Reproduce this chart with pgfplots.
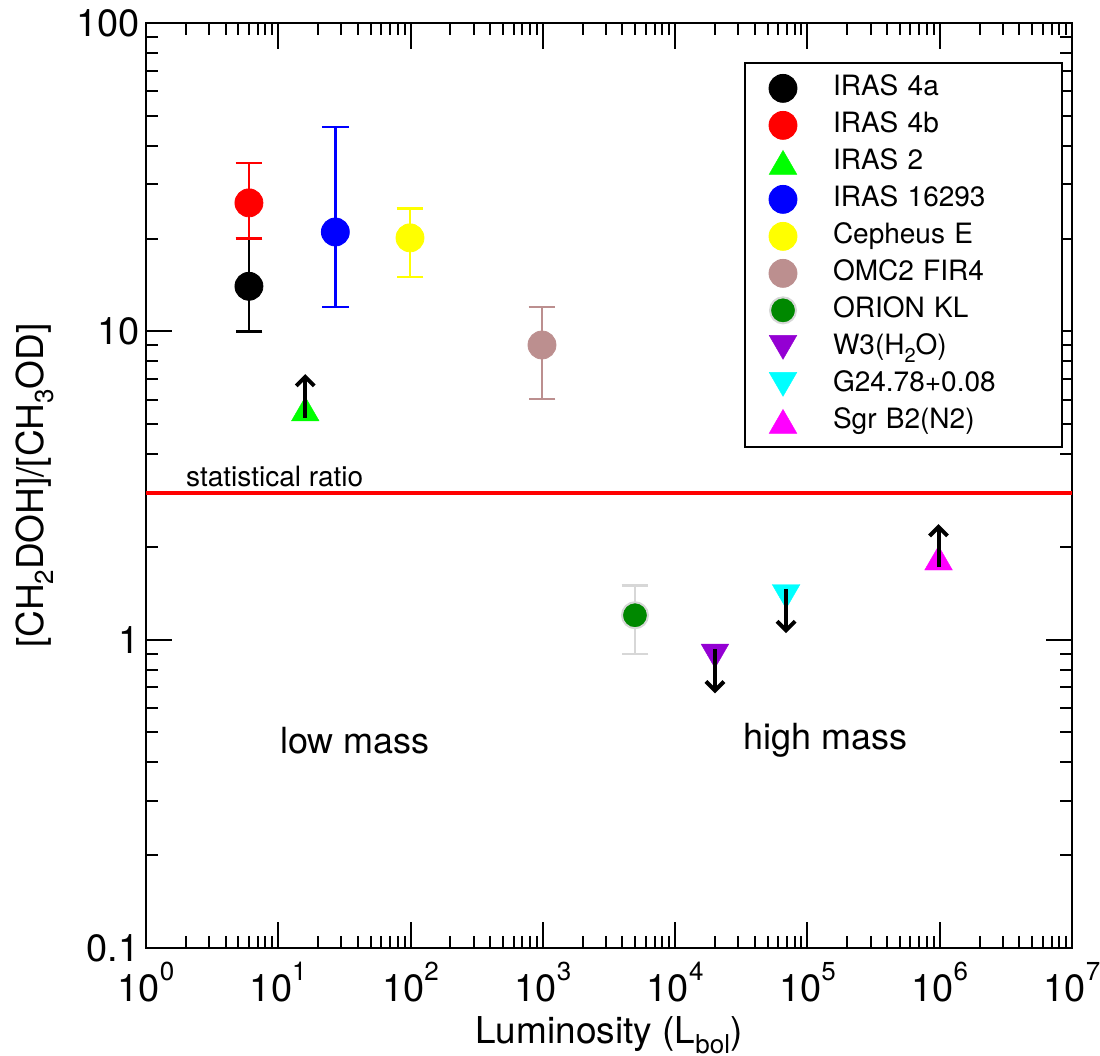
\documentclass[border=0pt]{standalone}
\usepackage{fontspec}
\setmainfont{TeX Gyre Heros}
\usepackage{pgfplots}
\pgfplotsset{compat=1.18}
\usetikzlibrary{arrows.meta}
\definecolor{cyel}{RGB}{255,255,0}
\definecolor{cgrn}{RGB}{0,255,0}
\definecolor{crosy}{RGB}{188,143,143}
\definecolor{cdkgrn}{RGB}{0,136,0}
\definecolor{clgray}{RGB}{215,215,215}
\definecolor{cviol}{RGB}{148,0,211}
\definecolor{ccyan}{RGB}{0,255,255}
\definecolor{cmag}{RGB}{255,0,255}
\newcommand{\ex}[1]{10\raisebox{10.5pt}{\fontsize{13}{14}\selectfont #1}}
\begin{document}
\begin{tikzpicture}
\begin{axis}[
  xmode=log, ymode=log,
  clip mode=individual,
  scale only axis, width=463pt, height=462.5pt,
  xmin=1, xmax=1e7, ymin=0.1, ymax=100,
  axis line style={line width=1.3pt},
  tick style={line width=1pt, black},
  major tick length=13pt, minor tick length=6pt,
  tick align=inside,
  xtick={1,10,100,1000,10000,100000,1000000,10000000},
  xticklabels={\ex{0},\ex{1},\ex{2},\ex{3},\ex{4},\ex{5},\ex{6},\ex{7}},
  minor xtick={2,3,4,5,6,7,8,9,20,30,40,50,60,70,80,90,200,300,400,500,600,700,800,900,2e3,3e3,4e3,5e3,6e3,7e3,8e3,9e3,2e4,3e4,4e4,5e4,6e4,7e4,8e4,9e4,2e5,3e5,4e5,5e5,6e5,7e5,8e5,9e5,2e6,3e6,4e6,5e6,6e6,7e6,8e6,9e6},
  ytick={0.1,1,10,100}, yticklabels={0.1,1,10,100},
  minor ytick={0.2,0.3,0.4,0.5,0.6,0.7,0.8,0.9,2,3,4,5,6,7,8,9,20,30,40,50,60,70,80,90},
  ticklabel style={font=\fontsize{19}{21}\selectfont},
  xticklabel style={inner ysep=0pt, yshift=-7pt},
  yticklabel style={inner xsep=0pt, xshift=-3pt},
  xlabel={Luminosity (L\raisebox{-5pt}{\fontsize{13}{14}\selectfont bol})},
  ylabel={[CH\raisebox{-5pt}{\fontsize{13}{14}\selectfont 2}DOH]/[CH\raisebox{-5pt}{\fontsize{13}{14}\selectfont 3}OD]},
  label style={font=\fontsize{18.5}{21}\selectfont},
  xlabel style={at={(axis description cs:0.5,0)}, anchor=base, yshift=-47.5pt, inner sep=0pt},
  ylabel style={at={(axis description cs:-0.1199,0.5)}, anchor=center, rotate=0, inner sep=0pt},
  legend style={at={(axis description cs:0.9903,0.958)}, anchor=north east, draw=black, line width=1pt, fill=white,
    font=\fontsize{14}{16}\selectfont, inner xsep=12pt, inner ysep=3.5pt, row sep=0pt, column sep=18pt,
    cells={anchor=west},
    nodes={inner xsep=0pt, inner ysep=2pt, text height=11pt, text depth=3.5pt, text width=102.5pt, align=left}},
]
% statistical ratio
\addplot[forget plot, red, line width=2pt] coordinates {(1,3) (1e7,3)};

\addplot[only marks, mark=*, mark size=7pt, black, mark options={fill=black, draw=black, line width=0.4pt},
  error bars/.cd, y dir=both, y explicit, error bar style={line width=1.2pt, black},
  error mark options={rotate=90, mark size=6.7pt, line width=1.2pt, black}]
  coordinates {(6,14) += (0,6) -= (0,4)};
\addlegendentry{IRAS 4a}

\addplot[only marks, mark=*, mark size=7pt, red, mark options={fill=red, draw=red, line width=0.4pt},
  error bars/.cd, y dir=both, y explicit, error bar style={line width=1.2pt, red},
  error mark options={rotate=90, mark size=6.7pt, line width=1.2pt, red}]
  coordinates {(6,26.1) += (0,9.1) -= (0,6.1)};
\addlegendentry{IRAS 4b}

\addplot[only marks, mark=triangle*, mark size=8pt, cgrn, mark options={fill=cgrn, draw=cgrn, line width=0.2pt, yshift=-2pt}]
  coordinates {(16,5.6)};
\addlegendentry{IRAS 2}

\addplot[only marks, mark=*, mark size=7pt, blue, mark options={fill=blue, draw=blue, line width=0.4pt},
  error bars/.cd, y dir=both, y explicit, error bar style={line width=1.2pt, blue},
  error mark options={rotate=90, mark size=6.7pt, line width=1.2pt, blue}]
  coordinates {(27,21) += (0,25) -= (0,9)};
\addlegendentry{IRAS 16293}

\addplot[only marks, mark=*, mark size=7pt, cyel, mark options={fill=cyel, draw=cyel, line width=0.4pt},
  error bars/.cd, y dir=both, y explicit, error bar style={line width=1.2pt, cyel},
  error mark options={rotate=90, mark size=6.7pt, line width=1.2pt, cyel}]
  coordinates {(99,20.1) += (0,4.9) -= (0,5.1)};
\addlegendentry{Cepheus E}

\addplot[only marks, mark=*, mark size=7pt, crosy, mark options={fill=crosy, draw=crosy, line width=0.4pt},
  error bars/.cd, y dir=both, y explicit, error bar style={line width=1.2pt, crosy},
  error mark options={rotate=90, mark size=6.7pt, line width=1.2pt, crosy}]
  coordinates {(985,9.03) += (0,2.97) -= (0,3.0)};
\addlegendentry{OMC2 FIR4}

\addplot[only marks, mark=*, mark size=6.5pt, cdkgrn, mark options={fill=cdkgrn, draw=clgray, line width=1pt},
  error bars/.cd, y dir=both, y explicit, error bar style={line width=1.2pt, clgray},
  error mark options={rotate=90, mark size=6.7pt, line width=1.2pt, clgray}]
  coordinates {(4970,1.2) += (0,0.3) -= (0,0.3)};
\addlegendentry{ORION KL}

\addplot[only marks, mark=triangle*, mark size=8pt, cviol, mark options={fill=cviol, draw=cviol, line width=0.2pt, yshift=2pt, rotate=180}]
  coordinates {(2e4,0.885)};
\addlegendentry{W3(H\raisebox{-4pt}{\fontsize{10}{12}\selectfont 2}O)}

\addplot[only marks, mark=triangle*, mark size=8pt, ccyan, mark options={fill=ccyan, draw=ccyan, line width=0.2pt, yshift=2pt, rotate=180}]
  coordinates {(6.9e4,1.38)};
\addlegendentry{G24.78+0.08}

\addplot[only marks, mark=triangle*, mark size=8pt, cmag, mark options={fill=cmag, draw=cmag, line width=0.2pt, yshift=-2pt}]
  coordinates {(9.8e5,1.84)};
\addlegendentry{Sgr B2(N2)}

% limit arrows
\addplot[forget plot, black, line width=2pt, -{Straight Barb[length=4.5pt,width=9pt]}] coordinates {(16,5.24) (16,7.27)};
\addplot[forget plot, black, line width=2pt, -{Straight Barb[length=4.5pt,width=9pt]}] coordinates {(2e4,0.93) (2e4,0.67)};
\addplot[forget plot, black, line width=2pt, -{Straight Barb[length=4.5pt,width=9pt]}] coordinates {(6.9e4,1.46) (6.9e4,1.05)};
\addplot[forget plot, black, line width=2pt, -{Straight Barb[length=4.5pt,width=9pt]}] coordinates {(9.8e5,1.72) (9.8e5,2.37)};

\node[anchor=base west, inner sep=0pt, font=\fontsize{14}{16}\selectfont] at (axis cs:2,3.15) {statistical ratio};
\node[anchor=center, inner sep=0pt, font=\fontsize{18}{20}\selectfont] at (axis cs:38,0.472) {low mass};
\node[anchor=center, inner sep=0pt, font=\fontsize{18}{20}\selectfont] at (axis cs:1.38e5,0.472) {high mass};
\end{axis}
\pgfresetboundingbox
\path[use as bounding box] (-73pt,-54pt) rectangle (477pt,474pt);
\end{tikzpicture}
\end{document}
